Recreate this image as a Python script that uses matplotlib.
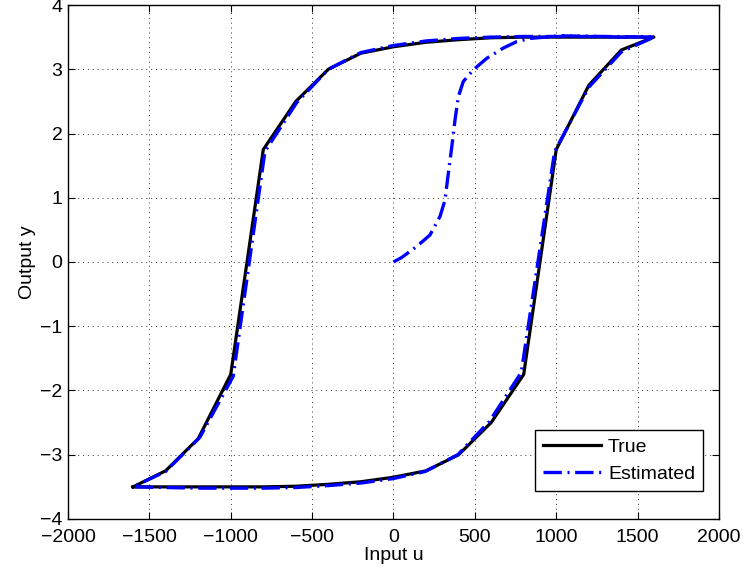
import matplotlib
matplotlib.use("Agg")
import matplotlib.pyplot as plt

plt.rcParams['font.family'] = ['Liberation Sans', 'DejaVu Sans']

# True hysteresis loop
true_u = [-1600, -1400, -1200, -1000, -800, -600, -400, -200, 0, 200, 400, 600, 800, 1000, 1200, 1400, 1600,
          1400, 1200, 1000, 800, 600, 400, 200, 0, -200, -400, -600, -800, -1000, -1200, -1400, -1600]
true_y = [-3.5, -3.25, -2.75, -1.75, 1.75, 2.5, 3.0, 3.25, 3.35, 3.42, 3.46, 3.49, 3.5, 3.5, 3.5, 3.5, 3.5,
          3.3, 2.75, 1.75, -1.75, -2.5, -3.0, -3.25, -3.35, -3.42, -3.46, -3.49, -3.5, -3.5, -3.5, -3.5, -3.5]

# Estimated response (starts at origin)
est_u = [0, 50, 142, 224, 286, 316, 337, 358, 378, 398, 429, 490, 573, 675, 757, 839, 1023, 1300, 1600,
         1400, 1200, 990, 785, 590, 395, 195, 0, -200, -400, -600, -800, -1000, -1200, -1400, -1600,
         -1400, -1190, -985, -790, -595, -400, -200, 0, 200, 400, 600, 800, 1000, 1200, 1400, 1600]
est_y = [0.0, 0.07, 0.24, 0.42, 0.71, 0.96, 1.38, 1.79, 2.21, 2.57, 2.81, 2.99, 3.17, 3.33, 3.43, 3.48, 3.52, 3.51, 3.5,
         3.27, 2.72, 1.72, -1.72, -2.48, -3.0, -3.26, -3.37, -3.44, -3.48, -3.51, -3.52, -3.52, -3.52, -3.51, -3.5,
         -3.26, -2.73, -1.78, 1.72, 2.48, 3.0, 3.26, 3.37, 3.44, 3.48, 3.5, 3.51, 3.51, 3.51, 3.5, 3.5]

xticks = [-2000, -1500, -1000, -500, 0, 500, 1000, 1500, 2000]
yticks = [-4, -3, -2, -1, 0, 1, 2, 3, 4]

fig = plt.figure(figsize=(7.43, 5.75), dpi=100)
ax = fig.add_axes([0.0915, 0.0974, 0.8762, 0.8939])

ax.plot(true_u, true_y, color='black', lw=2.3, label='True', zorder=3)
ax.plot(est_u, est_y, color='#0000ff', lw=2.4, linestyle=(0, (5.5, 1.7, 0.6, 1.7)),
        label='Estimated', zorder=4)

ax.set_xlim(-2000, 2000)
ax.set_ylim(-4, 4)
ax.set_xticks(xticks)
ax.set_yticks(yticks)
ax.set_xticklabels(['\u2212' + str(abs(t)) if t < 0 else str(t) for t in xticks])
ax.set_yticklabels(['\u2212' + str(abs(t)) if t < 0 else str(t) for t in yticks])
ax.tick_params(direction='in', top=True, right=True, labelsize=14, length=5, width=0.8)
ax.tick_params(axis='x', pad=7)
ax.tick_params(axis='y', pad=4)
ax.grid(True, linestyle=(0, (1, 4)), color='black', linewidth=0.7, alpha=0.8)
for s in ax.spines.values():
    s.set_linewidth(1.0)

ax.set_xlabel('Input u', fontsize=14, labelpad=1)
ax.set_ylabel('Output y', fontsize=14, labelpad=3)

leg = ax.legend(loc='lower right', fontsize=14, fancybox=False, framealpha=1,
                edgecolor='black', handlelength=3.0, borderpad=0.4, labelspacing=0.5,
                handletextpad=0.36, borderaxespad=0, bbox_to_anchor=(0.9754, 0.0545))
leg.get_frame().set_linewidth(1.0)

fig.savefig('out.png', dpi=100)
